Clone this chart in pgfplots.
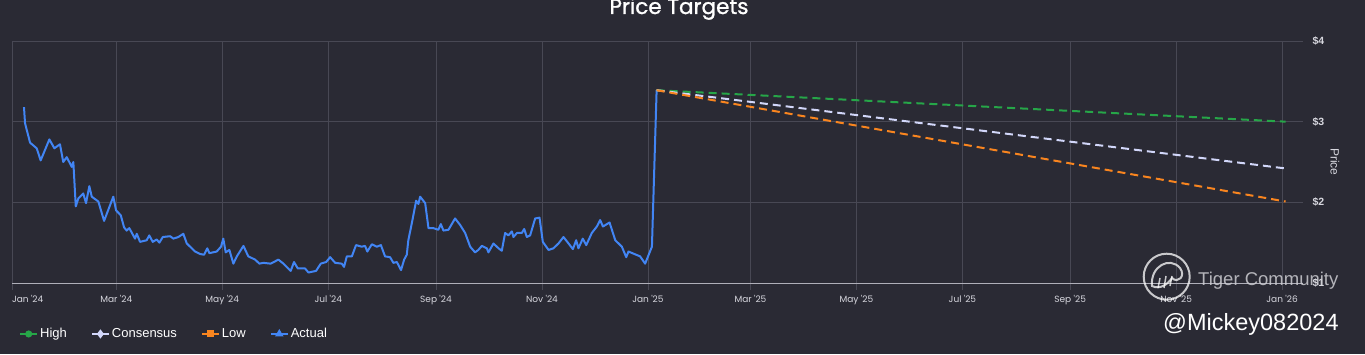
\documentclass[border=0pt]{standalone}
\usepackage{pgfplots}
\pgfplotsset{compat=1.18}
\usepackage{fontspec}
\setmainfont{Liberation Sans}
\newfontfamily\pop{Poppins}
\newfontfamily\popt{Poppins}[FakeBold=1.2]
\definecolor{bgc}{RGB}{42,42,52}
\definecolor{gridc}{RGB}{72,72,84}
\definecolor{axisc}{RGB}{175,175,185}
\definecolor{tickc}{RGB}{215,215,222}
\definecolor{actc}{RGB}{66,133,244}
\definecolor{highc}{RGB}{38,166,72}
\definecolor{consc}{RGB}{210,215,250}
\definecolor{lowc}{RGB}{249,133,31}
\definecolor{wmc}{RGB}{205,205,210}
\begin{document}
\begin{tikzpicture}[x=1pt,y=1pt]
\fill[bgc] (0,0) rectangle (1365,354);
\useasboundingbox (0,0) rectangle (1365,354);
\begin{axis}[
  at={(12pt,71pt)}, anchor=south west,
  scale only axis, width=1291pt, height=242pt,
  xmin=0, xmax=743, ymin=1, ymax=4,
  axis x line*=bottom, axis y line*=right,
  x axis line style={draw=axisc, line width=1pt, -},
  y axis line style={draw=none},
  grid=major, major grid style={draw=gridc, line width=0.8pt},
  xtick={0,60,121,182,244,305,366,425,486,547,609,670,731},
  xticklabels={\makebox[0pt][l]{Jan '24},Mar '24,May '24,Jul '24,Sep '24,Nov '24,Jan '25,Mar '25,May '25,Jul '25,Sep '25,Nov '25,Jan '26},
  ytick={1,2,3,4},
  yticklabels={\$1,\$2,\$3,\$4},
  yticklabel pos=right,
  tick align=outside, major tick length=7pt,
  xtick style={draw=gridc, line width=0.8pt},
  ytick style={draw=none},
  xticklabel style={font=\pop\fontsize{9}{10}\selectfont, text=tickc, yshift=-2pt},
  yticklabel style={font=\bfseries\fontsize{10.5}{12}\selectfont, text=tickc, anchor=west, xshift=-1pt},
  legend style={at={(rel axis cs:0.0031,-0.2107)}, anchor=west, draw=none, fill=none,
    text=white, font=\fontsize{13}{15}\selectfont,
    /tikz/every even column/.append style={column sep=22pt}},
  legend columns=4,
  legend image code/.code={\draw[mark repeat=2,mark phase=2,#1] plot coordinates {(0pt,0pt)(8.5pt,0pt)(17pt,0pt)};},
]
\addplot[forget plot, actc, line width=2pt, line join=round] coordinates {
(6.9,3.18)(7.5,2.98)(10.4,2.74)(14.2,2.67)(16.5,2.52)(21.5,2.78)(24.4,2.67)(27.6,2.72)(29.5,2.50)(31.5,2.56)(34.4,2.44)(35.3,2.50)(36.7,1.95)(38.2,2.05)(41.0,2.11)(42.6,1.99)(44.5,2.20)(45.9,2.07)(49.7,2.01)(53.0,1.77)(58.3,2.07)(59.9,1.90)(62.6,1.84)(64.5,1.69)(66.0,1.65)(67.5,1.68)(70.8,1.55)(71.8,1.61)(73.7,1.51)(77.5,1.53)(79.0,1.59)(81.0,1.51)(83.3,1.54)(84.8,1.50)(86.8,1.57)(91.0,1.58)(92.9,1.55)(95.7,1.57)(98.6,1.61)(100.6,1.49)(105.4,1.39)(108.2,1.36)(110.5,1.35)(112.4,1.43)(113.6,1.37)(117.8,1.39)(120.3,1.45)(121.6,1.55)(123.0,1.38)(125.1,1.41)(127.4,1.24)(129.4,1.33)(133.2,1.46)(136.0,1.33)(139.9,1.29)(142.4,1.24)(144.7,1.25)(148.9,1.24)(153.3,1.29)(156.2,1.24)(160.4,1.15)(162.3,1.26)(164.5,1.18)(168.7,1.18)(170.6,1.13)(175.0,1.15)(177.7,1.24)(180.8,1.26)(183.1,1.32)(186.0,1.25)(189.8,1.24)(191.1,1.20)(192.7,1.33)(195.6,1.33)(198.0,1.47)(201.3,1.45)(203.2,1.46)(204.5,1.39)(207.1,1.48)(210.0,1.45)(212.3,1.47)(214.7,1.33)(217.6,1.32)(219.5,1.25)(221.5,1.26)(223.9,1.16)(225.7,1.29)(227.2,1.35)(228.1,1.53)(230.1,1.74)(232.6,2.02)(233.9,1.98)(234.9,2.07)(237.8,1.99)(239.7,1.68)(242.5,1.68)(245.4,1.66)(246.8,1.73)(248.3,1.65)(251.2,1.66)(255.0,1.80)(257.9,1.72)(260.8,1.62)(263.7,1.45)(266.5,1.38)(268.4,1.41)(270.4,1.46)(273.3,1.43)(274.2,1.38)(277.1,1.49)(280.0,1.43)(281.9,1.40)(283.8,1.62)(285.7,1.59)(287.7,1.64)(288.6,1.57)(290.6,1.62)(293.4,1.62)(294.8,1.67)(296.3,1.57)(298.2,1.59)(301.1,1.80)(303.6,1.81)(305.5,1.51)(308.8,1.41)(311.6,1.43)(314.5,1.49)(317.4,1.57)(320.3,1.49)(322.8,1.42)(324.7,1.53)(326.0,1.43)(328.5,1.55)(330.5,1.47)(333.7,1.62)(336.6,1.70)(338.5,1.78)(340.1,1.70)(343.9,1.75)(347.2,1.53)(351.0,1.45)(353.5,1.32)(354.8,1.39)(361.5,1.33)(364.4,1.24)(368.3,1.45)(371.0,3.39)
};
\addplot[forget plot, highc, line width=2pt, dash pattern=on 8pt off 5pt] coordinates {(371,3.39)(552,3.195)(733,3.0)};
\addplot[forget plot, consc, line width=2pt, dash pattern=on 8pt off 5pt] coordinates {(371,3.39)(552,2.905)(733,2.42)};
\addplot[forget plot, lowc, line width=2pt, dash pattern=on 8pt off 5pt] coordinates {(371,3.39)(552,2.70)(733,2.01)};
\addlegendimage{highc, line width=2pt, mark=*, mark size=2.5pt}
\addlegendentry{High}
\addlegendimage{consc, line width=2pt, mark=diamond*, mark size=3pt}
\addlegendentry{Consensus}
\addlegendimage{lowc, line width=2pt, mark=square*, mark size=2.5pt}
\addlegendentry{Low}
\addlegendimage{actc, line width=2pt, mark=triangle*, mark size=3pt}
\addlegendentry{Actual}
\end{axis}
\node[anchor=base, text=white, font=\popt\fontsize{21.5}{23}\selectfont] at (679,340) {Price Targets};
\node[rotate=-90, text=tickc, font=\fontsize{12}{14}\selectfont] at (1335,192) {Price};
\draw[white, opacity=0.75, line width=2pt] (1166.7,77.3) circle (23);
\draw[white, opacity=0.75, line width=2pt] (1152,68) .. controls (1150,88) and (1170,98) .. (1180,86) .. controls (1186,78) and (1178,70) .. (1172,76) .. controls (1168,70) and (1160,64) .. (1152,68) -- cycle;
\draw[white, opacity=0.75, line width=1.5pt] (1158,66)--(1160,76) (1164,66)--(1166,78) (1170,68)--(1172,78);
\node[anchor=base west, text=wmc, opacity=0.85, font=\fontsize{18.5}{20}\selectfont, inner sep=0pt] at (1198,69) {Tiger Community};
\node[anchor=base west, text=white, font=\fontsize{23.5}{25}\selectfont, inner sep=0pt] at (1163,23.5) {@Mickey082024};
\end{tikzpicture}
\end{document}
